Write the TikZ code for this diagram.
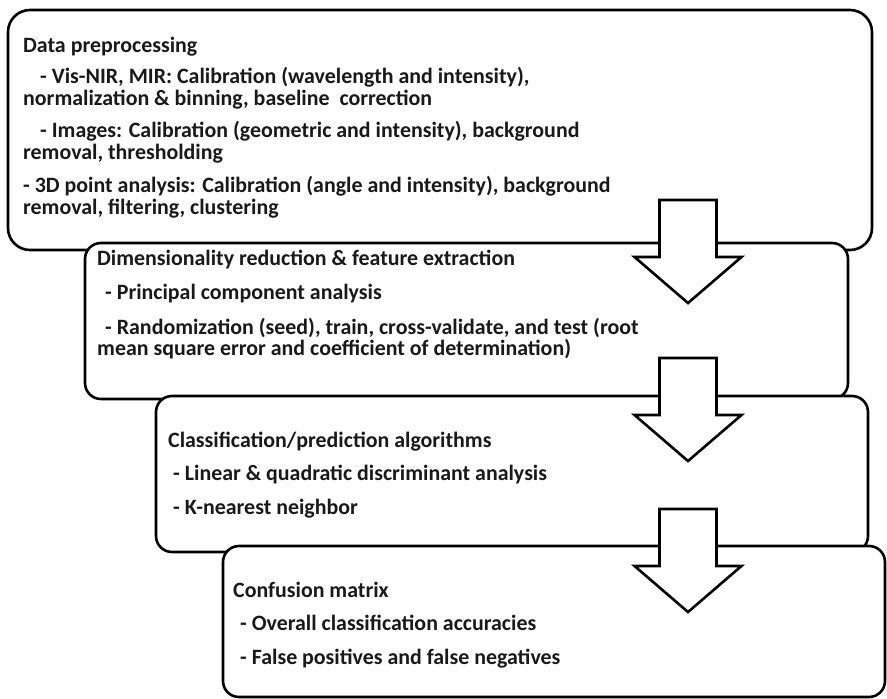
\documentclass[tikz,border=0pt]{standalone}
\usepackage{fontspec}
\setmainfont{Carlito}
\tikzset{
  box/.style={draw=black, line width=2.6pt, fill=white, rectangle, rounded corners=16pt, inner sep=0pt, outer sep=0pt},
  txt/.style={anchor=base west, inner sep=0pt, font=\fontsize{21.9}{24}\selectfont\bfseries, text=black!90},
  barrow/.style={draw=black, line width=2.6pt, fill=white, line join=miter},
}
\begin{document}
\begin{tikzpicture}[x=1pt, y=-1pt]
\useasboundingbox (0,0) rectangle (887,699);
\fill[white] (0,0) rectangle (887,699);
% boxes
\node[box, rounded corners=22pt, minimum width=864pt, minimum height=240pt] (b1) at (440,130) {};
\node[txt] (t11) at (23,52) {Data preprocessing};
\node[txt] (t12) at (40,83) {- Vis-NIR, MIR: Calibration (wavelength and intensity),};
\node[txt] (t13) at (23,105) {normalization \& binning, baseline\ \ correction};
\node[txt] (t14) at (40,137) {- Images: Calibration (geometric and intensity), background};
\node[txt] (t15) at (23,159) {removal, thresholding};
\node[txt] (t16) at (23,192) {- 3D point analysis: Calibration (angle and intensity), background};
\node[txt] (t17) at (23,214) {removal, filtering, clustering};
\node[box, minimum width=763pt, minimum height=156pt] (b2) at (466.5,321) {};
\node[txt] (t21) at (97,265) {Dimensionality reduction \& feature extraction};
\node[txt] (t22) at (105,299) {- Principal component analysis};
\node[txt] (t23) at (105,334) {- Randomization (seed), train, cross-validate, and test (root};
\node[txt] (t24) at (97,355) {mean square error and coefficient of determination)};
\node[box, minimum width=712pt, minimum height=156pt] (b3) at (512,474) {};
\node[txt] (t31) at (168,447) {Classification/prediction algorithms};
\node[txt] (t32) at (173,480) {- Linear \& quadratic discriminant analysis};
\node[txt] (t33) at (173,514) {- K-nearest neighbor};
\node[box, minimum width=662pt, minimum height=151pt] (b4) at (554,621.5) {};
\node[txt] (t41) at (233,597) {Confusion matrix};
\node[txt] (t42) at (240,630) {- Overall classification accuracies};
\node[txt] (t43) at (240,664) {- False positives and false negatives};
% block arrows
\coordinate (a1) at (688,200);
\coordinate (a2) at (688,358);
\coordinate (a3) at (688,509);
\foreach \a in {a1,a2,a3}{
  \draw[barrow] (\a) ++(-28.5,0) -- ++(57,0) -- ++(0,57) -- ++(25,0) -- ++(-53.5,46) -- ++(-53.5,-46) -- ++(25,0) -- cycle;
}
\end{tikzpicture}
\end{document}
